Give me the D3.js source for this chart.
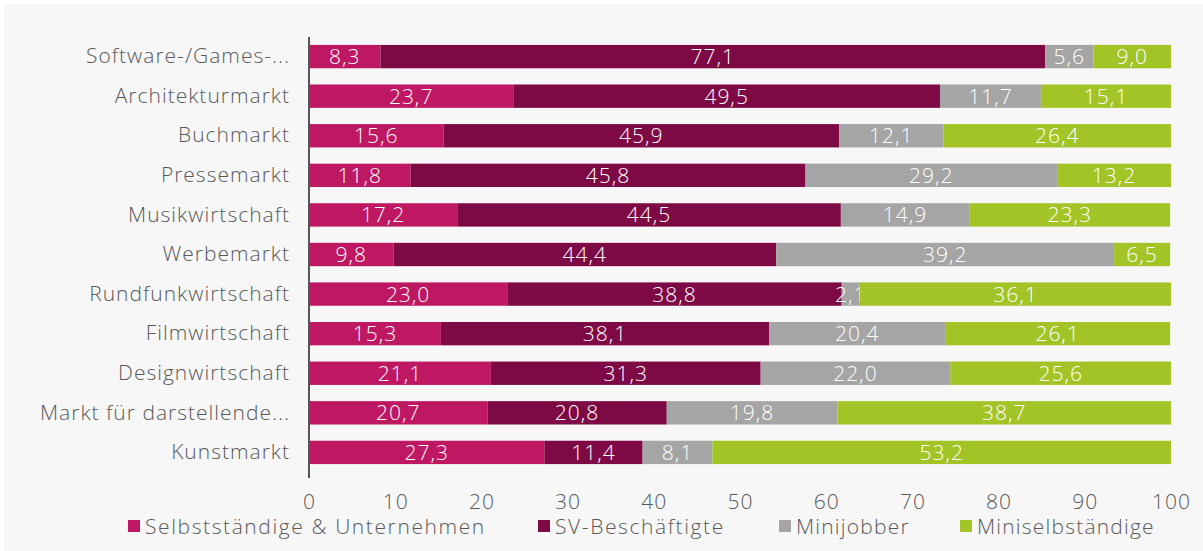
<!DOCTYPE html>
<html>
<head>
<meta charset="utf-8">
<script src="https://cdn.jsdelivr.net/npm/d3@7"></script>
<style>
  body { margin: 0; background: #fff; }
  svg { display: block; }
  text { font-family: "Open Sans", sans-serif; font-weight: 300; letter-spacing: 1px; }
</style>
</head>
<body>
<svg id="chart"></svg>
<script>
// data
const categories = ["Software-/Games-...", "Architekturmarkt", "Buchmarkt", "Pressemarkt",
  "Musikwirtschaft", "Werbemarkt", "Rundfunkwirtschaft", "Filmwirtschaft",
  "Designwirtschaft", "Markt für darstellende...", "Kunstmarkt"];
const seriesNames = ["Selbstständige & Unternehmen", "SV-Beschäftigte", "Minijobber", "Miniselbständige"];
const selbst = [8.3, 23.7, 15.6, 11.8, 17.2, 9.8, 23.0, 15.3, 21.1, 20.7, 27.3];
const sv = [77.1, 49.5, 45.9, 45.8, 44.5, 44.4, 38.8, 38.1, 31.3, 20.8, 11.4];
const mini = [5.6, 11.7, 12.1, 29.2, 14.9, 39.2, 2.1, 20.4, 22.0, 19.8, 8.1];
const miniSelbst = [9.0, 15.1, 26.4, 13.2, 23.3, 6.5, 36.1, 26.1, 25.6, 38.7, 53.2];
const xTicks = [0, 10, 20, 30, 40, 50, 60, 70, 80, 90, 100];
const colors = ["#be1862", "#7d0a44", "#a5a5a5", "#a3c426"];

const width = 1203;
const height = 551;
const margin = { left: 309, right: 32, top: 37, bottom: 80 };

const svg = d3.select('#chart')
  .attr('width', width)
  .attr('height', height);

svg.append('rect')
  .attr('x', 4).attr('y', 4)
  .attr('width', width - 4).attr('height', height - 4)
  .attr('fill', '#f7f7f7');

const table = categories.map((c, i) => ({
  cat: c,
  vals: [selbst[i], sv[i], mini[i], miniSelbst[i]]
}));
const stacked = d3.stack()
  .keys([0, 1, 2, 3])
  .value((d, k) => d.vals[k])(table);

const x = d3.scaleLinear()
  .domain([0, 100])
  .range([margin.left, width - margin.right]);

const y = d3.scaleBand()
  .domain(categories)
  .range([margin.top, 472])
  .paddingInner(0.41)
  .paddingOuter(0.2);

const fmt = v => d3.format('.1f')(v).replace('.', ',');

// bars
const layers = svg.selectAll('.layer')
  .data(stacked)
  .enter().append('g')
  .attr('class', 'layer')
  .attr('fill', (d, i) => colors[i]);

layers.selectAll('rect')
  .data(d => d)
  .enter().append('rect')
  .attr('x', d => x(d[0]))
  .attr('y', d => y(d.data.cat))
  .attr('width', d => x(d[1]) - x(d[0]))
  .attr('height', y.bandwidth());

// value labels
layers.selectAll('text')
  .data(d => d.map(p => ({ p: p, v: p[1] - p[0] })))
  .enter().append('text')
  .attr('x', d => (x(d.p[0]) + x(d.p[1])) / 2)
  .attr('y', d => y(d.p.data.cat) + y.bandwidth() / 2)
  .attr('dy', '0.36em')
  .attr('text-anchor', 'middle')
  .attr('fill', '#fff')
  .style('font-size', '21px')
  .text(d => fmt(d.v));

// y axis
const yAxis = svg.append('g')
  .attr('transform', 'translate(' + margin.left + ',0)')
  .call(d3.axisLeft(y).tickSize(0).tickPadding(19));
yAxis.select('.domain')
  .attr('d', 'M0,' + margin.top + 'V478')
  .attr('stroke', '#555')
  .attr('stroke-width', 2);
yAxis.selectAll('text')
  .attr('fill', '#595959')
  .style('font-size', '21px');

// x axis
const xAxis = svg.append('g')
  .attr('transform', 'translate(0,478)')
  .call(d3.axisBottom(x).tickValues(xTicks).tickSize(0).tickPadding(16));
xAxis.select('.domain').remove();
xAxis.selectAll('text')
  .attr('fill', '#595959')
  .style('font-size', '21px');

// legend
const legendX = [128, 538, 779, 960];
const legend = svg.selectAll('.legend')
  .data(seriesNames)
  .enter().append('g')
  .attr('class', 'legend')
  .attr('transform', (d, i) => 'translate(' + legendX[i] + ',527)');
legend.append('rect')
  .attr('x', 0).attr('y', -7)
  .attr('width', 12).attr('height', 12)
  .attr('fill', (d, i) => colors[i]);
legend.append('text')
  .attr('x', 17)
  .attr('dy', '0.34em')
  .attr('fill', '#595959')
  .style('font-size', '21px')
  .style('letter-spacing', (d, i) => i < 2 ? '1.6px' : '1.2px')
  .text(d => d);
</script>
</body>
</html>
